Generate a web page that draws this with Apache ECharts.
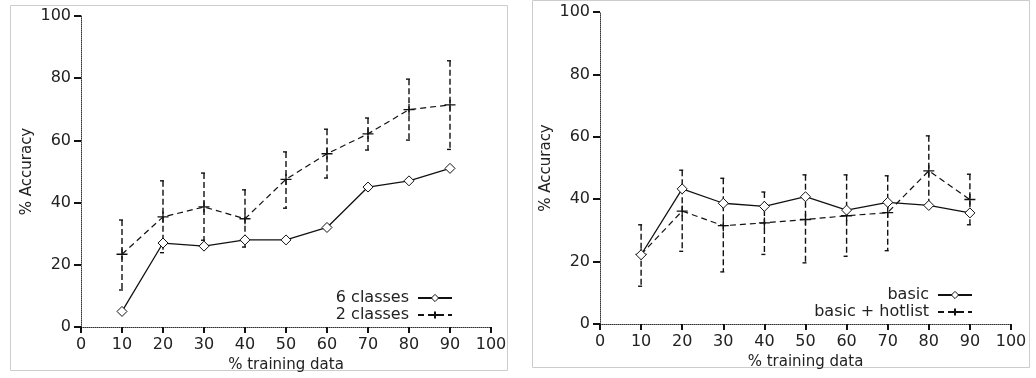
<!DOCTYPE html>
<html>
<head>
<meta charset="utf-8">
<script src="https://cdn.jsdelivr.net/npm/echarts@6/dist/echarts.min.js"></script>
<style>
  html, body { margin: 0; padding: 0; background: #fff; }
  #main { width: 1036px; height: 378px; }
</style>
</head>
<body>
<div id="main"></div>
<script>
// x values (% training data)
var xs = [10, 20, 30, 40, 50, 60, 70, 80, 90];

// left panel
var sixClasses = [5, 27, 26, 28, 28, 32, 45, 47, 51];
var twoClasses = [23.4, 35.4, 38.6, 34.8, 47.5, 55.7, 62.1, 69.9, 71.4];
var twoLow = [11.9, 23.9, 27.9, 25.7, 38.2, 47.9, 56.9, 60.1, 57.1];
var twoHigh = [34.4, 47.0, 49.5, 44.1, 56.3, 63.6, 67.2, 79.7, 85.6];

// right panel
var basic = [22.2, 43.3, 38.7, 37.7, 40.8, 36.5, 39.0, 38.0, 35.6];
var hotlist = [22.3, 36.2, 31.5, 32.4, 33.5, 34.7, 35.7, 49.1, 39.9];
var hotLow = [12.1, 23.3, 16.7, 22.3, 19.6, 21.7, 23.5, 38.0, 31.8];
var hotHigh = [31.8, 49.3, 46.7, 42.3, 47.8, 47.8, 47.5, 60.3, 48.0];

var FONT = 'DejaVu Sans';
var plusSym = 'path://M0,5L10,5M5,0L5,10';

function pairs(v) {
  return xs.map(function (x, i) { return [x, v[i]]; });
}
function triples(lo, hi) {
  return xs.map(function (x, i) { return [x, lo[i], hi[i]]; });
}

// dashed error bar with "[" caps
function errRender(params, api) {
  var x = api.value(0);
  var top = api.coord([x, api.value(2)]);
  var bot = api.coord([x, api.value(1)]);
  var st = { stroke: '#111', lineWidth: 1.4 };
  return {
    type: 'group',
    children: [
      { type: 'line', shape: { x1: top[0], y1: top[1], x2: bot[0], y2: bot[1] },
        style: { stroke: '#111', lineWidth: 1.4, lineDash: [6, 3] } },
      { type: 'line', shape: { x1: top[0] - 3, y1: top[1], x2: top[0] + 1, y2: top[1] }, style: st },
      { type: 'line', shape: { x1: bot[0] - 3, y1: bot[1], x2: bot[0] + 1, y2: bot[1] }, style: st }
    ]
  };
}

function xAxisCfg(idx) {
  return {
    gridIndex: idx, type: 'value', min: 0, max: 100, interval: 10,
    name: '% training data', nameLocation: 'middle', nameGap: 26,
    nameTextStyle: { fontFamily: FONT, fontSize: 15, color: '#222' },
    axisLine: { lineStyle: { type: 'dotted', color: '#333', width: 1 } },
    axisTick: { length: 6, lineStyle: { color: '#111', width: 2 } },
    axisLabel: { fontFamily: FONT, fontSize: 16, color: '#222', margin: 10 },
    splitLine: { show: false }
  };
}
function yAxisCfg(idx) {
  return {
    gridIndex: idx, type: 'value', min: 0, max: 100, interval: 20,
    name: '% Accuracy', nameLocation: 'middle', nameGap: 46, nameRotate: 90,
    nameTextStyle: { fontFamily: FONT, fontSize: 15, color: '#222' },
    axisLine: { show: true, lineStyle: { type: 'dotted', color: '#333', width: 1 } },
    axisTick: { show: true, length: 7, lineStyle: { color: '#111', width: 2 } },
    axisLabel: { fontFamily: FONT, fontSize: 16, color: '#222', margin: 10 },
    splitLine: { show: false }
  };
}

function solidSeries(name, data, idx) {
  return {
    name: name, type: 'line', xAxisIndex: idx, yAxisIndex: idx, data: pairs(data),
    symbol: 'diamond', symbolSize: 10, z: 4,
    lineStyle: { color: '#111', width: 1.3, type: 'solid' },
    itemStyle: { color: '#fff', borderColor: '#111', borderWidth: 1 }
  };
}
function dashSeries(name, data, idx) {
  return {
    name: name, type: 'line', xAxisIndex: idx, yAxisIndex: idx, data: pairs(data),
    symbol: plusSym, symbolSize: 11, z: 3,
    lineStyle: { color: '#111', width: 1.2, type: [6, 4] },
    itemStyle: { color: '#111', borderColor: '#111', borderWidth: 1.3 }
  };
}
function errSeries(lo, hi, idx) {
  return {
    type: 'custom', xAxisIndex: idx, yAxisIndex: idx, z: 2,
    renderItem: errRender, data: triples(lo, hi), encode: { x: 0, y: [1, 2] },
    silent: true
  };
}

var hollow = { color: '#fff', borderColor: '#111', borderWidth: 1 };
var legendBase = {
  orient: 'vertical', align: 'right', itemWidth: 34, itemHeight: 9, itemGap: 1,
  textStyle: { fontFamily: FONT, fontSize: 16, color: '#222', padding: [0, 4, 0, 0] }
};

var chart = echarts.init(document.getElementById('main'));
chart.setOption({
  animation: false,
  backgroundColor: '#fff',
  graphic: [
    { type: 'rect', shape: { x: 10.5, y: 5.5, width: 497, height: 365 },
      style: { fill: 'none', stroke: '#ccc', lineWidth: 1 }, silent: true },
    { type: 'rect', shape: { x: 532.5, y: 0.5, width: 497, height: 367 },
      style: { fill: 'none', stroke: '#ccc', lineWidth: 1 }, silent: true }
  ],
  grid: [
    { left: 81, top: 16, width: 410, height: 311 },
    { left: 600, top: 12, width: 411, height: 312 }
  ],
  xAxis: [xAxisCfg(0), xAxisCfg(1)],
  yAxis: [yAxisCfg(0), yAxisCfg(1)],
  legend: [
    Object.assign({}, legendBase, {
      data: [{ name: '6 classes', itemStyle: hollow }, '2 classes'], right: 578, top: 285
    }),
    Object.assign({}, legendBase, {
      data: [{ name: 'basic', itemStyle: hollow }, 'basic + hotlist'], right: 58, top: 282
    })
  ],
  series: [
    errSeries(twoLow, twoHigh, 0),
    solidSeries('6 classes', sixClasses, 0),
    dashSeries('2 classes', twoClasses, 0),
    errSeries(hotLow, hotHigh, 1),
    solidSeries('basic', basic, 1),
    dashSeries('basic + hotlist', hotlist, 1)
  ]
});
</script>
</body>
</html>
